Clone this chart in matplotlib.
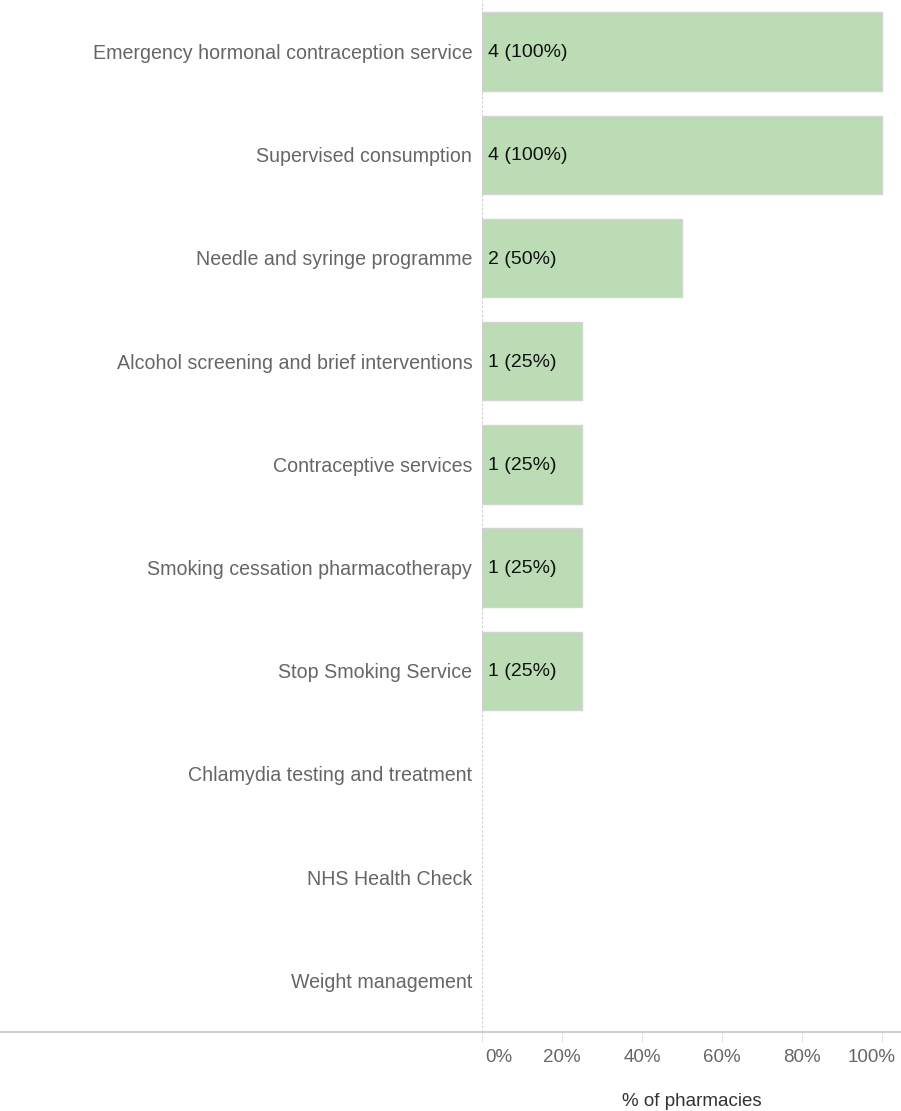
import matplotlib
matplotlib.use("Agg")
import matplotlib.pyplot as plt
import matplotlib.transforms as mtransforms
from matplotlib.lines import Line2D

services = [
    "Emergency hormonal contraception service",
    "Supervised consumption",
    "Needle and syringe programme",
    "Alcohol screening and brief interventions",
    "Contraceptive services",
    "Smoking cessation pharmacotherapy",
    "Stop Smoking Service",
    "Chlamydia testing and treatment",
    "NHS Health Check",
    "Weight management",
]
counts = [4, 4, 2, 1, 1, 1, 1, 0, 0, 0]
total = 4
pct = [100 * c / total for c in counts]
xticks = [0, 20, 40, 60, 80, 100]

plt.rcParams["font.family"] = ["Liberation Sans", "DejaVu Sans"]

fig = plt.figure(figsize=(9.01, 11.11), dpi=100)
ax = fig.add_axes([482 / 901, 79 / 1111, 419 / 901, 1032 / 1111])

y = list(range(len(services)))
for i, (c, p) in enumerate(zip(counts, pct)):
    if c == 0:
        continue
    ax.barh(i, p, height=0.76, color="#bcdcb5", edgecolor="#d4d4d4", linewidth=1)
    ax.text(1.5, i + 0.01, f"{c} ({p:.0f}%)", va="center", ha="left", fontsize=14, color="#111111")

ax.set_ylim(len(services) - 0.5, -0.5)
ax.set_xlim(0, 100 * 419 / 400)
ax.set_yticks(y)
ax.set_yticklabels(services, fontsize=14.1, color="#666666")
ax.tick_params(axis="y", length=0, pad=7)

ax.set_xticks(xticks)
ax.set_xticklabels([f"{t}%" for t in xticks], fontsize=13.5, color="#666666")
ax.tick_params(axis="x", length=7, color="#e6e6e6", pad=5)
labels = ax.get_xticklabels()
labels[0].set_transform(labels[0].get_transform() +
                        mtransforms.ScaledTranslation(17 / 100, 0, fig.dpi_scale_trans))
labels[-1].set_transform(labels[-1].get_transform() +
                         mtransforms.ScaledTranslation(-10 / 100, 0, fig.dpi_scale_trans))
ax.set_xlabel("% of pharmacies", fontsize=13.5, color="#333333", labelpad=20)

for s in ax.spines.values():
    s.set_visible(False)
ax.axvline(0, color="#cccccc", linestyle=(0, (2, 2)), linewidth=0.8)

fig.add_artist(Line2D([0, 1], [79 / 1111, 79 / 1111], transform=fig.transFigure,
                      color="#cfcfcf", linewidth=1.5))

fig.savefig("out.png", dpi=100)
